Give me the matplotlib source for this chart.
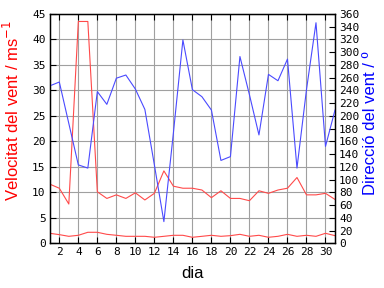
import numpy as np
import matplotlib
matplotlib.use('Agg')
import matplotlib.pyplot as plt

days = list(range(1, 32))

vel_max = [11.6, 10.8, 7.7, 43.5, 43.5, 10.1, 8.8, 9.5, 8.8, 9.9,
           8.5, 9.8, 14.2, 11.2, 10.8, 10.8, 10.45, 8.95, 10.3, 8.8,
           8.8, 8.35, 10.3, 9.8, 10.45, 10.8, 12.9, 9.5, 9.5, 9.8, 8.6]

vel_mean = [1.96, 1.7, 1.37, 1.57, 2.16, 2.16, 1.76, 1.57, 1.37, 1.37,
            1.37, 1.18, 1.37, 1.57, 1.57, 1.18, 1.37, 1.57, 1.37, 1.5,
            1.76, 1.37, 1.57, 1.18, 1.37, 1.76, 1.37, 1.57, 1.37, 1.96, 1.5]

direccio = [247, 253, 188, 123, 118, 238, 218, 259, 264, 242,
            210, 123, 34, 173, 319, 241, 230, 209, 130, 136,
            293, 233, 170, 265, 255, 289, 118, 241, 346, 152, 209]

red = '#ff4a4a'
blue = '#4a4aff'
mono = 'DejaVu Sans Mono'

fig = plt.figure(figsize=(3.84, 2.88), dpi=100)
ax = fig.add_axes([0.1297, 0.1552, 0.8724 - 0.1297, 0.952 - 0.1552])

ax.plot(days, vel_max, color=red, lw=0.8)
ax.plot(days, vel_mean, color=red, lw=0.8)
ax.set_xlim(1, 31)
ax.set_ylim(0, 45)
ax.set_xticks(range(2, 31, 2))
ax.set_yticks(range(0, 46, 5))
ax.grid(color='#a0a0a0', lw=0.8)
ax.set_axisbelow(True)
ax.tick_params(direction='in', length=4, width=0.8, labelsize=8, top=True, pad=3)
for lab in ax.get_xticklabels() + ax.get_yticklabels():
    lab.set_family(mono)
for s in ax.spines.values():
    s.set_linewidth(1)

ax2 = ax.twinx()
ax2.plot(days, direccio, color=blue, lw=0.8)
ax2.set_ylim(0, 360)
ax2.set_yticks(range(0, 361, 20))
ax2.tick_params(direction='in', length=4, width=0.8, labelsize=8, pad=3)
for lab in ax2.get_yticklabels():
    lab.set_family(mono)

fig.text(0.032, 0.615, 'Velocitat del vent / ms$^{-1}$', color='red', rotation=90,
         ha='center', va='center', fontsize=12, family='Liberation Sans')
fig.text(0.966, 0.573, 'Direcció del vent / º', color='blue', rotation=90,
         ha='center', va='center', fontsize=12, family='Liberation Sans')
fig.text(0.5, 0.052, 'dia', color='black', ha='center', va='center',
         fontsize=12, family='Liberation Sans')

fig.savefig('out.png', dpi=100)
